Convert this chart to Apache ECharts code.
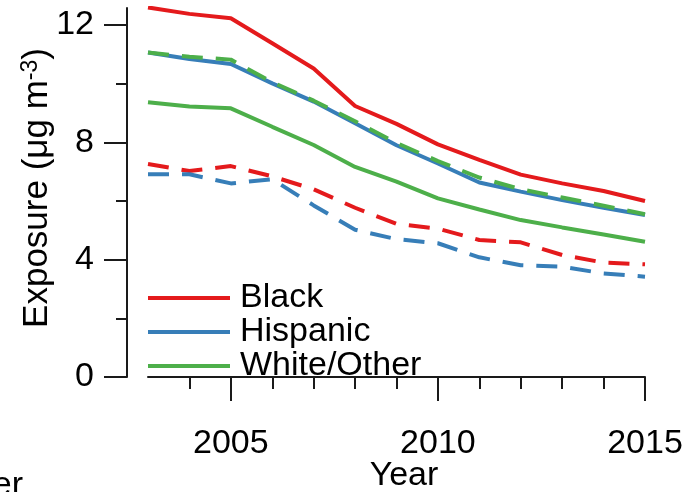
<!DOCTYPE html>
<html>
<head>
<meta charset="utf-8">
<script src="https://cdn.jsdelivr.net/npm/echarts@6/dist/echarts.min.js"></script>
<style>
html,body{margin:0;padding:0;background:#fff;}
#chart{width:690px;height:492px;}
</style>
</head>
<body>
<div id="chart"></div>
<script>
var years = [2003,2004,2005,2006,2007,2008,2009,2010,2011,2012,2013,2014,2015];
var blackSolid     = [12.60,12.38,12.23,11.38,10.52,9.24,8.63,7.93,7.40,6.90,6.60,6.34,6.00];
var hispanicSolid  = [11.06,10.84,10.67,10.01,9.39,8.65,7.90,7.28,6.63,6.32,6.03,5.77,5.52];
var whiteSolid     = [9.37,9.22,9.16,8.53,7.91,7.16,6.66,6.09,5.71,5.35,5.10,4.86,4.61];
var blackDashed    = [7.26,7.02,7.19,6.84,6.40,5.77,5.22,5.06,4.67,4.59,4.16,3.90,3.84];
var hispanicDashed = [6.91,6.91,6.60,6.74,5.85,5.02,4.70,4.56,4.08,3.81,3.76,3.53,3.42];
var whiteDashed    = [11.06,10.92,10.82,10.05,9.42,8.72,7.98,7.36,6.80,6.40,6.12,5.84,5.55];

var xMajorTicks = [2005,2010,2015];
var xMinorTicks = [2004,2006,2007,2008,2009,2011,2012,2013,2014];
var yMajorTicks = [0,4,8,12];
var yMinorTicks = [2,6,10];

var legendNames = ['Black','Hispanic','White/Other'];
var xTitle = 'Year';

var RED = '#E41A1C', BLUE = '#377EB8', GREEN = '#4DAF4A';
var FONT = "'Liberation Sans', Arial, Helvetica, sans-serif";
var AX = '#1a1a1a';

function pairs(vals){ return years.map(function(y,i){ return [y, vals[i]]; }); }
function mk(name, vals, color, dashed){
  return {
    name: name, type: 'line', data: pairs(vals), symbol: 'none',
    xAxisIndex: 0, yAxisIndex: 0,
    lineStyle: {color: color, width: 4, type: dashed ? [21,13] : 'solid'},
    itemStyle: {color: color},
    emphasis: {disabled: true}
  };
}

var chart = echarts.init(document.getElementById('chart'), null, {renderer:'canvas'});
chart.setOption({
  animation: false,
  textStyle: {fontFamily: FONT},
  grid: {left: 148, right: 45, top: 8, bottom: 115, containLabel: false},
  xAxis: [
    {type:'value', min:2003, max:2015, position:'bottom', offset:22,
     axisLine:{show:true, lineStyle:{color:AX, width:2}},
     axisTick:{show:true, customValues:xMinorTicks, length:12, lineStyle:{color:AX, width:2}},
     axisLabel:{show:false}, splitLine:{show:false}},
    {type:'value', min:2003, max:2015, position:'bottom', offset:22,
     axisLine:{show:false},
     axisTick:{show:true, customValues:xMajorTicks, length:24, lineStyle:{color:AX, width:2}},
     axisLabel:{show:true, customValues:xMajorTicks, margin:28, fontSize:34, color:'#000', fontFamily:FONT,
       formatter:function(v){ return String(v); }},
     splitLine:{show:false}}
  ],
  yAxis: [
    {type:'value', min:0, max:12.58, position:'left', offset:21,
     axisLine:{show:true, lineStyle:{color:AX, width:2}},
     axisTick:{show:true, customValues:yMinorTicks, length:11, lineStyle:{color:AX, width:2}},
     axisLabel:{show:false}, splitLine:{show:false}},
    {type:'value', min:0, max:12.58, position:'left', offset:21,
     axisLine:{show:false},
     axisTick:{show:true, customValues:yMajorTicks, length:23, lineStyle:{color:AX, width:2}},
     axisLabel:{show:true, customValues:yMajorTicks, margin:33, fontSize:34, color:'#000', fontFamily:FONT, padding:[9,0,0,0]},
     splitLine:{show:false}}
  ],
  legend: {
    orient:'vertical', left:148, top:281, padding:0, itemGap:0,
    itemWidth:82, itemHeight:4, icon:'rect',
    data: legendNames,
    textStyle:{fontSize:34, color:'#000', lineHeight:32, fontFamily:FONT, padding:[0,0,0,5]},
    selectedMode:false
  },
  series: [
    mk(legendNames[0], blackSolid, RED, false),
    mk(legendNames[1], hispanicSolid, BLUE, false),
    mk(legendNames[2], whiteSolid, GREEN, false),
    mk(legendNames[0] + ' (dashed)', blackDashed, RED, true),
    mk(legendNames[1] + ' (dashed)', hispanicDashed, BLUE, true),
    mk(legendNames[2] + ' (dashed)', whiteDashed, GREEN, true)
  ],
  graphic: [
    {type:'text', x:404, y:476, style:{text:xTitle, fontSize:34, fill:'#000', align:'center', verticalAlign:'middle', fontFamily:FONT}},
    {type:'text', x:37, y:188, rotation:Math.PI/2,
     style:{text:'{a|Exposure (μg m}{s|-3}{a|)}', align:'center', verticalAlign:'middle', fill:'#000', fontFamily:FONT,
       rich:{a:{fontSize:35, fill:'#000', fontFamily:FONT, lineHeight:36},
             s:{fontSize:23, fill:'#000', fontFamily:FONT, verticalAlign:'top', lineHeight:23}}}},
    {type:'text', x:23, y:486, style:{text:'er', fontSize:34, fill:'#000', align:'right', verticalAlign:'middle', fontFamily:FONT}}
  ]
});
</script>
</body>
</html>
